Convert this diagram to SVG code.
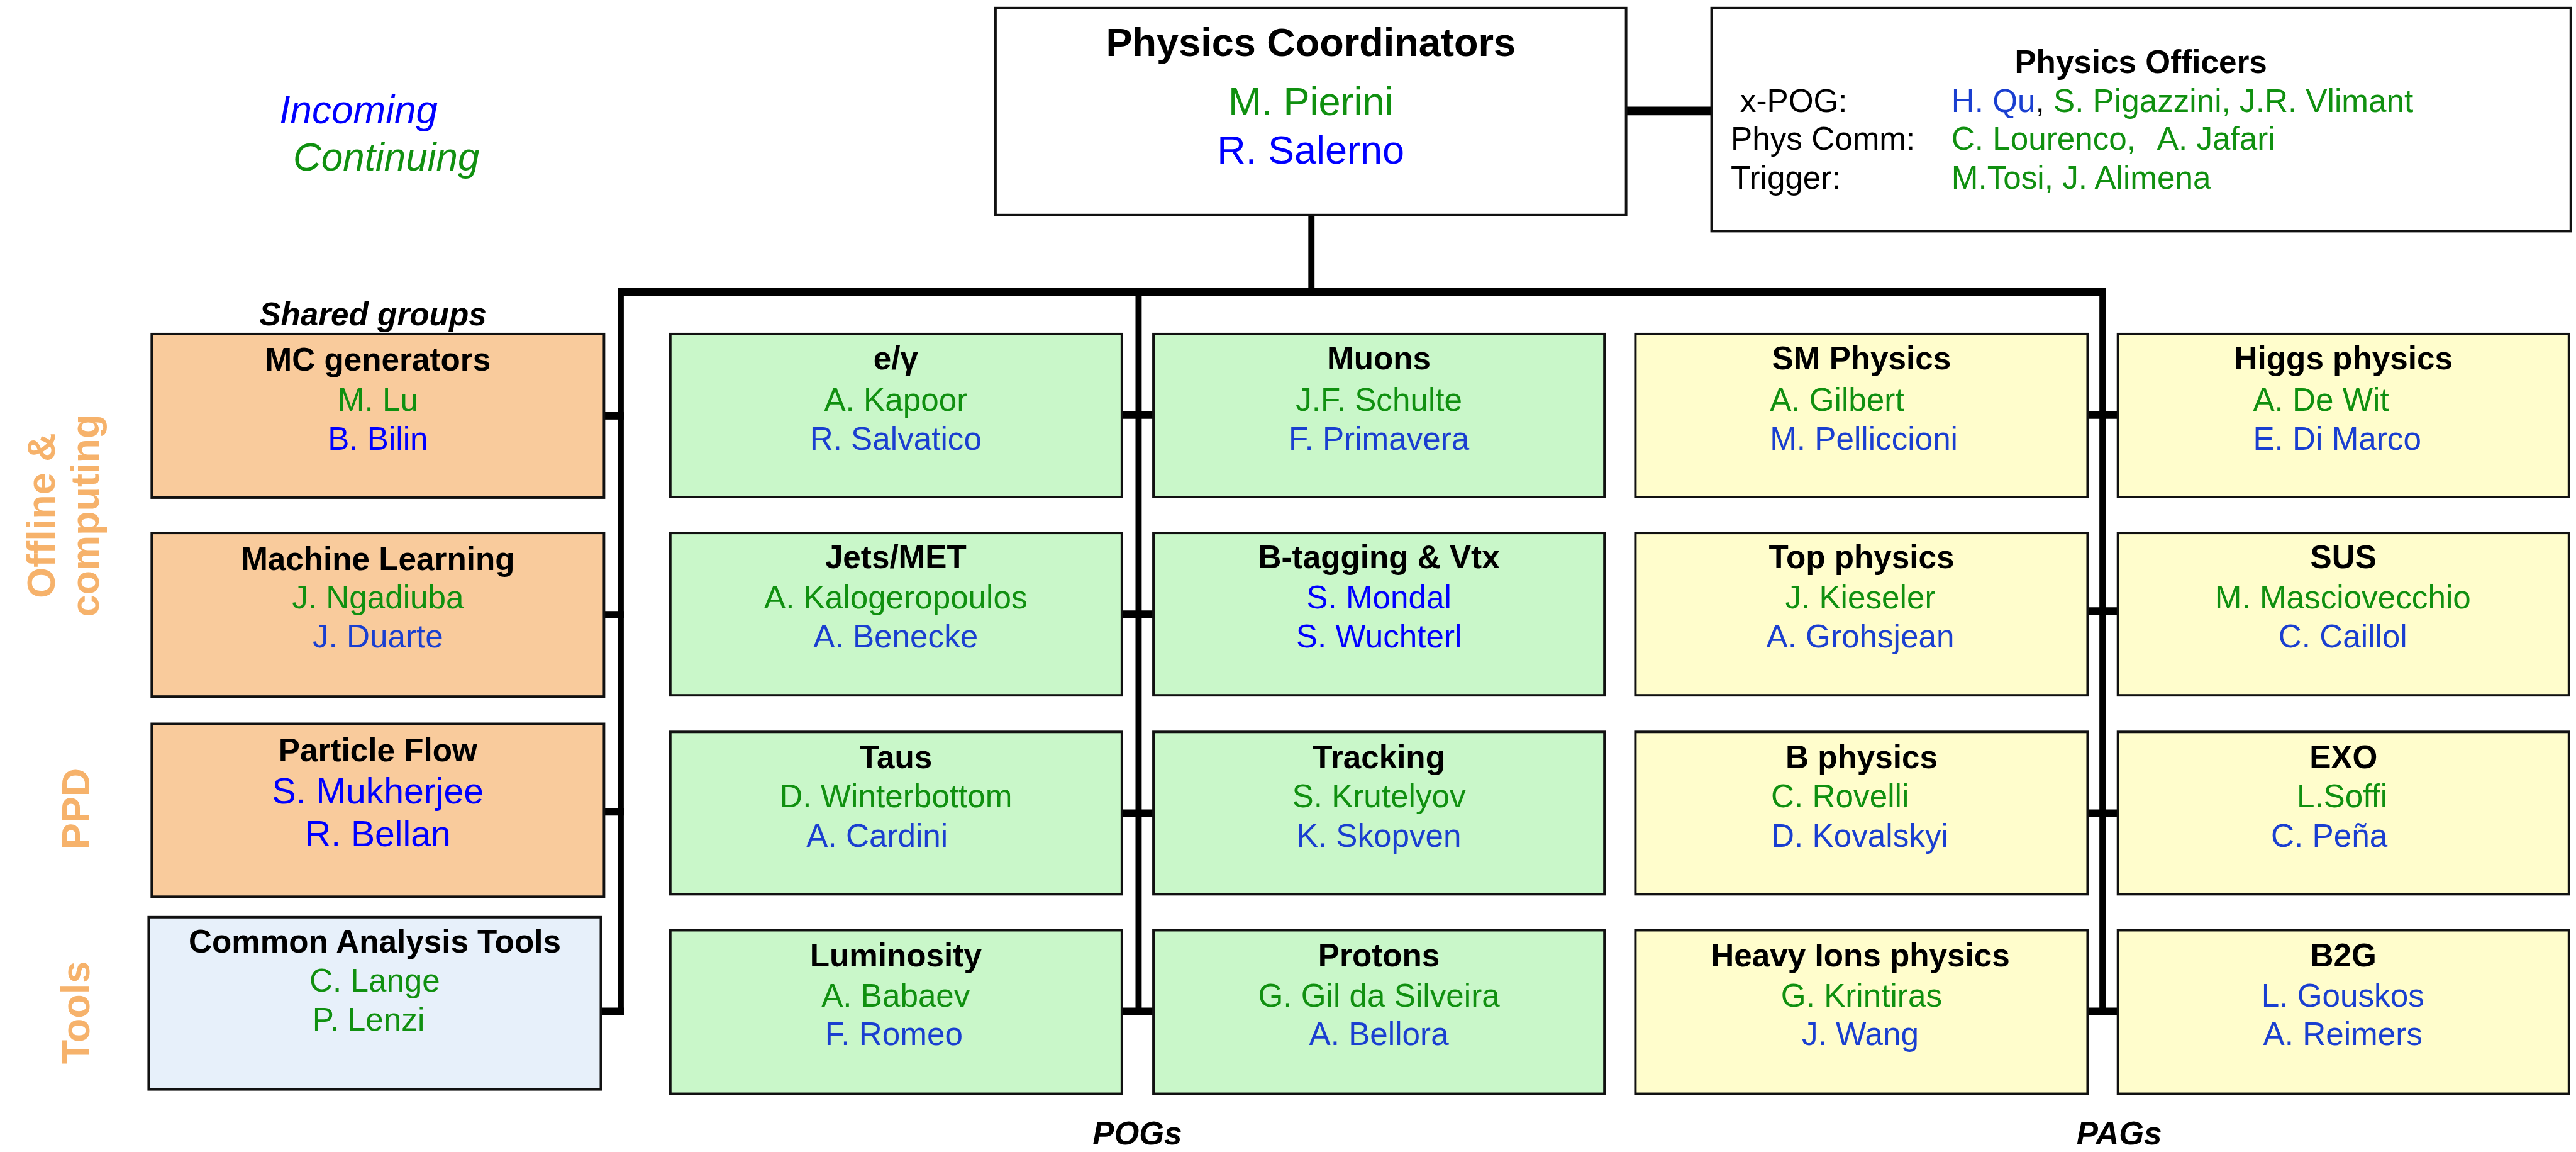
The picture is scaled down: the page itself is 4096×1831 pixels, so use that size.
<svg xmlns="http://www.w3.org/2000/svg" width="4096" height="1831" viewBox="0 0 4096 1831">
<style>
.box{stroke:#111;stroke-width:4}
.or{fill:#F9CB9C}.gr{fill:#C9F7C9}.ye{fill:#FFFDCC}.lb{fill:#E7F0FA}.wh{fill:#fff}
text{font-family:"Liberation Sans",Arial,Helvetica,sans-serif;font-size:52px;text-anchor:middle}
.h{font-weight:bold;fill:#000}
.g{fill:#109010}.b{fill:#1a3fd0}.B{fill:#0000ff}
.side{font-weight:bold;font-size:64px;fill:#F6B26B}
.it{font-style:italic;font-weight:bold;fill:#000}
.st{text-anchor:start}.en{text-anchor:end}
.cn{stroke:#000;fill:none}
</style>
<rect width="4096" height="1831" fill="#fff"/>
<g transform="scale(0.985)">
<g id="legend">
<text x="451" y="199" class="st" style="font-size:63px;font-style:italic;fill:#0000ff">Incoming</text>
<text x="473" y="275" class="st" style="font-size:63px;font-style:italic;fill:#109010">Continuing</text>
</g>
<g id="side-labels">
<text class="side" transform="translate(88,832) rotate(-90)">Offline &amp;</text>
<text class="side" transform="translate(159,832) rotate(-90)">computing</text>
<text class="side" transform="translate(144,1305) rotate(-90)">PPD</text>
<text class="side" transform="translate(144,1634) rotate(-90)">Tools</text>
<text class="it" x="602" y="525">Shared groups</text>
<text class="it" x="1836" y="1847">POGs</text>
<text class="it" x="3421" y="1847">PAGs</text>
</g>
<g id="connectors" class="cn">
<line x1="2625" y1="179" x2="2763" y2="179" stroke-width="14"/>
<line x1="2117" y1="347" x2="2117" y2="471" stroke-width="10"/>
<line x1="997" y1="471" x2="3399" y2="471" stroke-width="13"/>
<line x1="1002" y1="466" x2="1002" y2="1638" stroke-width="10"/>
<line x1="1838" y1="471" x2="1838" y2="1638" stroke-width="10"/>
<line x1="3394" y1="466" x2="3394" y2="1638" stroke-width="10"/>
<g stroke-width="12">
<line x1="975" y1="671" x2="1007" y2="671"/>
<line x1="975" y1="992" x2="1007" y2="992"/>
<line x1="975" y1="1310" x2="1007" y2="1310"/>
<line x1="970" y1="1632" x2="1007" y2="1632"/>
<line x1="1811" y1="670" x2="1862" y2="670"/>
<line x1="1811" y1="991" x2="1862" y2="991"/>
<line x1="1811" y1="1312" x2="1862" y2="1312"/>
<line x1="1811" y1="1632" x2="1862" y2="1632"/>
<line x1="3370" y1="670" x2="3419" y2="670"/>
<line x1="3370" y1="986" x2="3419" y2="986"/>
<line x1="3370" y1="1312" x2="3419" y2="1312"/>
<line x1="3370" y1="1632" x2="3419" y2="1632"/>
</g>
</g>
<g id="physics-coordinators">
<rect class="box wh" x="1607" y="13" width="1018" height="334"/>
<text class="h" x="2116" y="90" style="font-size:64px">Physics Coordinators</text>
<text class="g" x="2116" y="186" style="font-size:64px">M. Pierini</text>
<text class="B" x="2116" y="264" style="font-size:64px">R. Salerno</text>
</g>
<g id="physics-officers">
<rect class="box wh" x="2763" y="13" width="1387" height="360"/>
<text class="h" x="3456" y="118">Physics Officers</text>
<text class="st" x="2809" y="181">x-POG:</text>
<text class="st" x="2794" y="242">Phys Comm:</text>
<text class="st" x="2794" y="305">Trigger:</text>
<text class="st" x="3150" y="181"><tspan class="b">H. Qu</tspan><tspan>, </tspan><tspan class="g">S. Pigazzini, J.R. Vlimant</tspan></text>
<text class="st g" x="3150" y="242">C. Lourenco,</text>
<text class="st g" x="3482" y="242">A. Jafari</text>
<text class="st g" x="3150" y="305">M.Tosi, J. Alimena</text>
</g>
<g id="mc-generators">
<rect class="box or" x="245" y="539" width="730" height="264"/>
<text class="h" x="610" y="598">MC generators</text>
<text class="g" x="610" y="663">M. Lu</text>
<text class="B" x="610" y="726">B. Bilin</text>
</g>
<g id="machine-learning">
<rect class="box or" x="245" y="860" width="730" height="264"/>
<text class="h" x="610" y="920">Machine Learning</text>
<text class="g" x="610" y="982">J. Ngadiuba</text>
<text class="b" x="610" y="1045">J. Duarte</text>
</g>
<g id="particle-flow">
<rect class="box or" x="245" y="1168" width="730" height="279"/>
<text class="h" x="610" y="1228">Particle Flow</text>
<text class="B" x="610" y="1296" style="font-size:58px">S. Mukherjee</text>
<text class="B" x="610" y="1365" style="font-size:58px">R. Bellan</text>
</g>
<g id="common-analysis-tools">
<rect class="box lb" x="240" y="1480" width="730" height="278"/>
<text class="h" x="605" y="1537">Common Analysis Tools</text>
<text class="g" x="605" y="1600">C. Lange</text>
<text class="g" x="595" y="1663">P. Lenzi</text>
</g>
<g id="egamma">
<rect class="box gr" x="1082" y="539" width="729" height="263"/>
<text class="h" x="1446" y="596">e/γ</text>
<text class="g" x="1446" y="663">A. Kapoor</text>
<text class="b" x="1446" y="726">R. Salvatico</text>
</g>
<g id="muons">
<rect class="box gr" x="1862" y="539" width="728" height="263"/>
<text class="h" x="2226" y="596">Muons</text>
<text class="g" x="2226" y="663">J.F. Schulte</text>
<text class="b" x="2226" y="726">F. Primavera</text>
</g>
<g id="jets-met">
<rect class="box gr" x="1082" y="860" width="729" height="262"/>
<text class="h" x="1446" y="917">Jets/MET</text>
<text class="g" x="1446" y="982">A. Kalogeropoulos</text>
<text class="b" x="1446" y="1045">A. Benecke</text>
</g>
<g id="btagging">
<rect class="box gr" x="1862" y="860" width="728" height="262"/>
<text class="h" x="2226" y="917">B-tagging &amp; Vtx</text>
<text class="B" x="2226" y="982">S. Mondal</text>
<text class="B" x="2226" y="1045">S. Wuchterl</text>
</g>
<g id="taus">
<rect class="box gr" x="1082" y="1181" width="729" height="262"/>
<text class="h" x="1446" y="1240">Taus</text>
<text class="g" x="1446" y="1303">D. Winterbottom</text>
<text class="b" x="1416" y="1366">A. Cardini</text>
</g>
<g id="tracking">
<rect class="box gr" x="1862" y="1181" width="728" height="262"/>
<text class="h" x="2226" y="1240">Tracking</text>
<text class="g" x="2226" y="1303">S. Krutelyov</text>
<text class="b" x="2226" y="1366">K. Skopven</text>
</g>
<g id="luminosity">
<rect class="box gr" x="1082" y="1501" width="729" height="264"/>
<text class="h" x="1446" y="1559">Luminosity</text>
<text class="g" x="1446" y="1624">A. Babaev</text>
<text class="b" x="1443" y="1686">F. Romeo</text>
</g>
<g id="protons">
<rect class="box gr" x="1862" y="1501" width="728" height="264"/>
<text class="h" x="2226" y="1559">Protons</text>
<text class="g" x="2226" y="1624">G. Gil da Silveira</text>
<text class="b" x="2226" y="1686">A. Bellora</text>
</g>
<g id="sm-physics">
<rect class="box ye" x="2640" y="539" width="730" height="263"/>
<text class="h" x="3005" y="596">SM Physics</text>
<text class="g st" x="2857" y="663">A. Gilbert</text>
<text class="b st" x="2857" y="726">M. Pelliccioni</text>
</g>
<g id="higgs-physics">
<rect class="box ye" x="3419" y="539" width="728" height="263"/>
<text class="h" x="3783" y="596">Higgs physics</text>
<text class="g st" x="3637" y="663">A. De Wit</text>
<text class="b st" x="3637" y="726">E. Di Marco</text>
</g>
<g id="top-physics">
<rect class="box ye" x="2640" y="860" width="730" height="262"/>
<text class="h" x="3005" y="917">Top physics</text>
<text class="g" x="3003" y="982">J. Kieseler</text>
<text class="b" x="3003" y="1045">A. Grohsjean</text>
</g>
<g id="sus">
<rect class="box ye" x="3419" y="860" width="728" height="262"/>
<text class="h" x="3783" y="917">SUS</text>
<text class="g" x="3782" y="982">M. Masciovecchio</text>
<text class="b" x="3782" y="1045">C. Caillol</text>
</g>
<g id="b-physics">
<rect class="box ye" x="2640" y="1181" width="730" height="262"/>
<text class="h" x="3005" y="1240">B physics</text>
<text class="g st" x="2859" y="1303">C. Rovelli</text>
<text class="b st" x="2859" y="1366">D. Kovalskyi</text>
</g>
<g id="exo">
<rect class="box ye" x="3419" y="1181" width="728" height="262"/>
<text class="h" x="3783" y="1240">EXO</text>
<text class="g en" x="3854" y="1303">L.Soffi</text>
<text class="b en" x="3854" y="1366">C. Peña</text>
</g>
<g id="heavy-ions">
<rect class="box ye" x="2640" y="1501" width="730" height="264"/>
<text class="h" x="3003" y="1559">Heavy Ions physics</text>
<text class="g" x="3005" y="1624">G. Krintiras</text>
<text class="b" x="3003" y="1686">J. Wang</text>
</g>
<g id="b2g">
<rect class="box ye" x="3419" y="1501" width="728" height="264"/>
<text class="h" x="3783" y="1559">B2G</text>
<text class="b" x="3782" y="1624">L. Gouskos</text>
<text class="b" x="3782" y="1686">A. Reimers</text>
</g>
</g>
</svg>
